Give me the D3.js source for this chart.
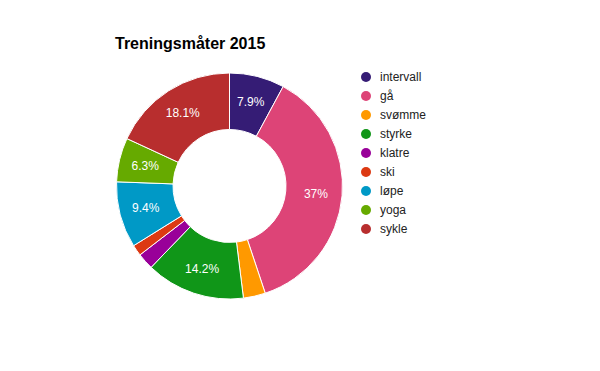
<!DOCTYPE html>
<html>
<head>
<meta charset="utf-8">
<script src="https://cdn.jsdelivr.net/npm/d3@7"></script>
<style>
body { margin: 0; background: #fff; }
svg { font-family: Arial, "Liberation Sans", sans-serif; }
</style>
</head>
<body>
<svg id="chart" width="600" height="371"></svg>
<script>
// data
var titleText = "Treningsmåter 2015";
var categories = ["intervall", "gå", "svømme", "styrke", "klatre", "ski", "løpe", "yoga", "sykle"];
var values = [10, 47, 4, 18, 3, 2, 12, 8, 23];
var colors = ["#351c75", "#dd4477", "#ff9900", "#109618", "#990099", "#dc3912", "#0099c6", "#66aa00", "#b82e2e"];

var svg = d3.select("#chart");

var cx = 229.5, cy = 186;
var outerR = 113;
var innerR = outerR * 0.5;

svg.append("text")
	.attr("x", 115)
	.attr("y", 49)
	.attr("font-size", 16)
	.attr("font-weight", "bold")
	.attr("fill", "#000")
	.text(titleText);

var data = categories.map(function(c, i) {
	return { name: c, value: values[i], color: colors[i] };
});
var total = d3.sum(values);

var pie = d3.pie()
	.value(d => d.value)
	.sort(null);

var arc = d3.arc()
	.innerRadius(innerR)
	.outerRadius(outerR);

var labelArc = d3.arc()
	.innerRadius((innerR + outerR) / 2 + 2)
	.outerRadius((innerR + outerR) / 2 + 2);

var g = svg.append("g")
	.attr("transform", "translate(" + cx + "," + cy + ")");

var arcs = pie(data);

g.selectAll("path")
	.data(arcs)
	.enter()
	.append("path")
		.attr("d", arc)
		.attr("fill", d => d.data.color)
		.attr("stroke", "#fff")
		.attr("stroke-width", 1);

g.selectAll("text")
	.data(arcs.filter(d => d.data.value / total > 0.05))
	.enter()
	.append("text")
		.attr("transform", d => "translate(" + labelArc.centroid(d) + ")")
		.attr("text-anchor", "middle")
		.attr("dy", "0.35em")
		.attr("font-size", 12)
		.attr("fill", "#fff")
		.text(function(d) {
			var p = d.data.value / total * 100;
			return (+p.toFixed(1)) + "%";
		});

// legend
var legend = svg.append("g")
	.attr("transform", "translate(366,77)");

var item = legend.selectAll("g")
	.data(data)
	.enter()
	.append("g")
		.attr("transform", (d, i) => "translate(0," + i * 19 + ")");

item.append("circle")
	.attr("r", 5)
	.attr("fill", d => d.color);

item.append("text")
	.attr("x", 14)
	.attr("dy", "0.35em")
	.attr("font-size", 12)
	.attr("fill", "#222")
	.text(d => d.name);
</script>
</body>
</html>
